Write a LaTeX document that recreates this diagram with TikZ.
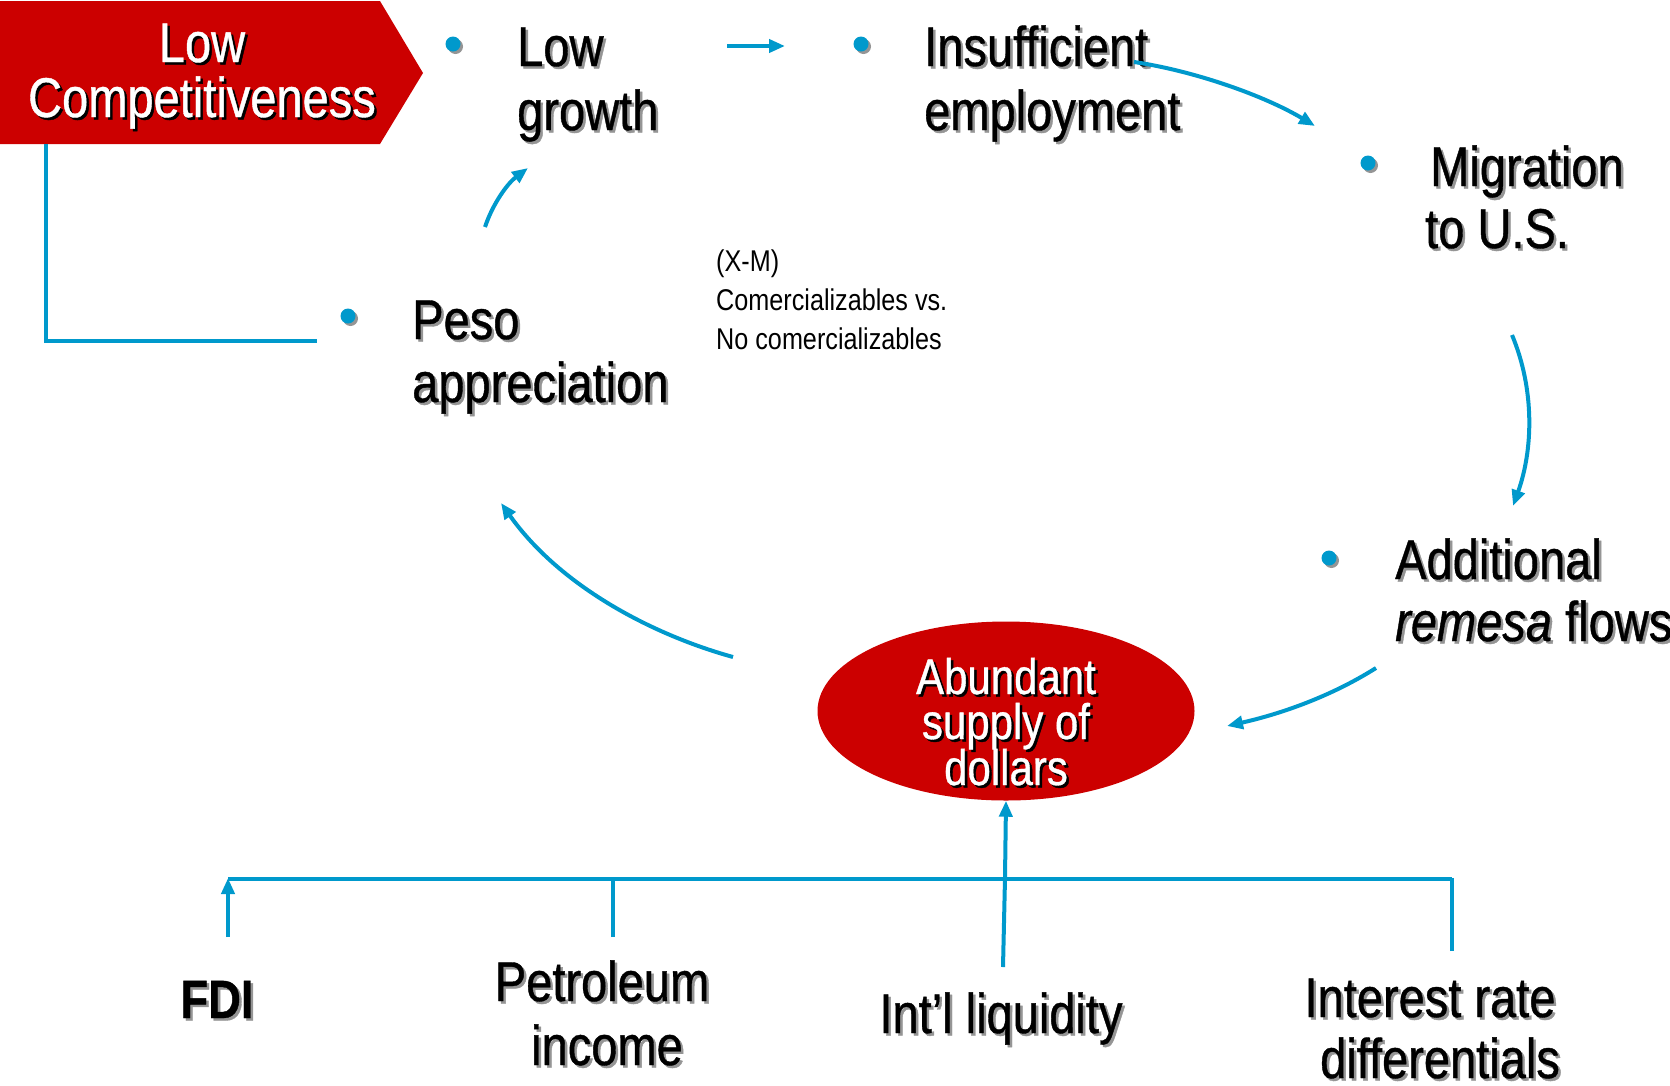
\documentclass[tikz,border=0pt]{standalone}
\usepackage{fontspec}
\setmainfont{Liberation Sans}[FakeStretch=0.84,FakeBold=0.7]
\newfontfamily\plainfont{Liberation Sans}[FakeStretch=0.84]
\usetikzlibrary{arrows.meta,shapes.geometric}
\definecolor{myblue}{HTML}{0099CC}
\definecolor{myred}{HTML}{CC0000}
\definecolor{shadowgray}{HTML}{959595}
\newcommand\shd[2][shadowgray]{\makebox[0pt][l]{\kern2.5pt\raisebox{-2.5pt}{\textcolor{#1}{#2}}}#2}
\begin{document}
\begin{tikzpicture}[x=1pt,y=-1pt,
  txt/.style={inner sep=0pt, anchor=base west, font=\fontsize{56}{64}\selectfont},
  ctxt/.style={inner sep=0pt, anchor=base, font=\fontsize{56}{64}\selectfont},
  wtxt/.style={inner sep=0pt, anchor=base, text=white, font=\fontsize{56}{64}\selectfont},
  etxt/.style={inner sep=0pt, anchor=base, text=white, font=\fontsize{50}{48}\selectfont},
  small/.style={inner sep=0pt, anchor=base west, font=\plainfont\fontsize{30}{39}\selectfont},
  bullet/.style={circle, fill=myblue, minimum size=15pt, inner sep=0pt},
  conn/.style={draw=myblue, line width=4pt},
  arr/.style={conn, -{Triangle[length=16pt,width=13pt]}}]
\useasboundingbox (0,0) rectangle (1670,1085);

% red box
\path[fill=myred] (0,1) -- (380,1) -- (423,73) -- (380,144) -- (0,144) -- cycle;
\node[wtxt] (lc1) at (202,62) {\shd[black]{Low}};
\node[wtxt] (lc2) at (202,117) {\shd[black]{Competitiveness}};
\coordinate (lcbottom) at (46,144);
\coordinate (lcend) at (317,341);

% bullets with shadows
\foreach \x/\y in {453/44, 861/44, 1368/163, 348/316, 1329/558}
  \fill[shadowgray] (\x+2.5,\y+2.5) circle[radius=7.5];
\node[bullet] (blg) at (453,44) {};
\node[bullet] (bins) at (861,44) {};
\node[bullet] (bmig) at (1368,163) {};
\node[bullet] (bpeso) at (348,316) {};
\node[bullet] (badd) at (1329,558) {};

% texts
\node[txt] (lg1) at (517,66) {\shd{Low}};
\node[txt] (lg2) at (517,130) {\shd{growth}};
\node[txt] (ins1) at (924,66) {\shd{Insufficient}};
\node[txt] (ins2) at (924,130) {\shd{employment}};
\node[txt] (mig1) at (1430,186) {\shd{Migration}};
\node[txt] (mig2) at (1425,248) {\shd{to U.S.}};
\node[txt] (peso1) at (412,339) {\shd{Peso}};
\node[txt] (peso2) at (412,402) {\shd{appreciation}};
\node[txt] (add1) at (1395,579) {\shd{Additional}};
\node[txt] (add2) at (1395,641) {\shd{\textit{remesa} flows}};

\node[small] (xm1) at (716,271) {(X-M)};
\node[small] (xm2) at (716,310) {Comercializables vs.};
\node[small] (xm3) at (716,349) {No comercializables};

% ellipse
\node[ellipse, fill=myred, minimum width=377pt, minimum height=179pt, inner sep=0pt] (abund) at (1006,711) {};
\node[etxt] (ab1) at (1006,694) {\shd[black]{Abundant}};
\node[etxt] (ab2) at (1006,739) {\shd[black]{supply of}};
\node[etxt] (ab3) at (1006,785) {\shd[black]{dollars}};

% bottom texts
\node[inner sep=0pt, anchor=base, font=\fontsize{54}{60}\selectfont\bfseries] (fdi) at (217,1018) {\shd{FDI}};
\node[ctxt] (pet1) at (602,1001) {\shd{Petroleum}};
\node[ctxt] (pet2) at (607,1065) {\shd{income}};
\node[ctxt] (liq) at (1001,1033) {\shd{Int’l liquidity}};
\node[ctxt] (int1) at (1430,1017) {\shd{Interest rate}};
\node[ctxt] (int2) at (1440,1078) {\shd{differentials}};

% connectors
\draw[conn] (lcbottom) -- (46,341) -- (lcend);
\coordinate (a1s) at (727,46);
\coordinate (a1e) at (785,46);
\draw[arr] (a1s) -- (a1e);
\coordinate (a2s) at (1134,62);
\coordinate (a2e) at (1315,126);
\draw[arr] (a2s) .. controls (1195,71) and (1265,96) .. (a2e);
\coordinate (a3s) at (1512,335);
\coordinate (a3e) at (1513,506);
\draw[arr] (a3s) .. controls (1535,390) and (1533,450) .. (a3e);
\coordinate (a4s) at (1376,668);
\coordinate (a4e) at (1227,726);
\draw[arr] (a4s) .. controls (1330,697) and (1280,714) .. (a4e);
\coordinate (a5s) at (733,657);
\coordinate (a5e) at (501,503);
\draw[arr] (a5s) .. controls (650,634) and (559,585) .. (a5e);
\coordinate (a6s) at (485,227);
\coordinate (a6e) at (528,168);
\draw[arr] (a6s) .. controls (493,203) and (508,183) .. (a6e);

% bottom tree
\coordinate (bar) at (1005,878);
\draw[conn] (228,879) -- (1452,879);
\draw[arr] (bar) -- (abund.south);
\coordinate (fdit) at (228,937);
\draw[arr] (fdit) -- (228,878);
\coordinate (pett) at (613,937);
\draw[conn] (pett) -- (613,878);
\coordinate (liqt) at (1003,967);
\draw[conn] (liqt) -- (bar);
\coordinate (intt) at (1452,951);
\draw[conn] (intt) -- (1452,878);
\end{tikzpicture}
\end{document}
